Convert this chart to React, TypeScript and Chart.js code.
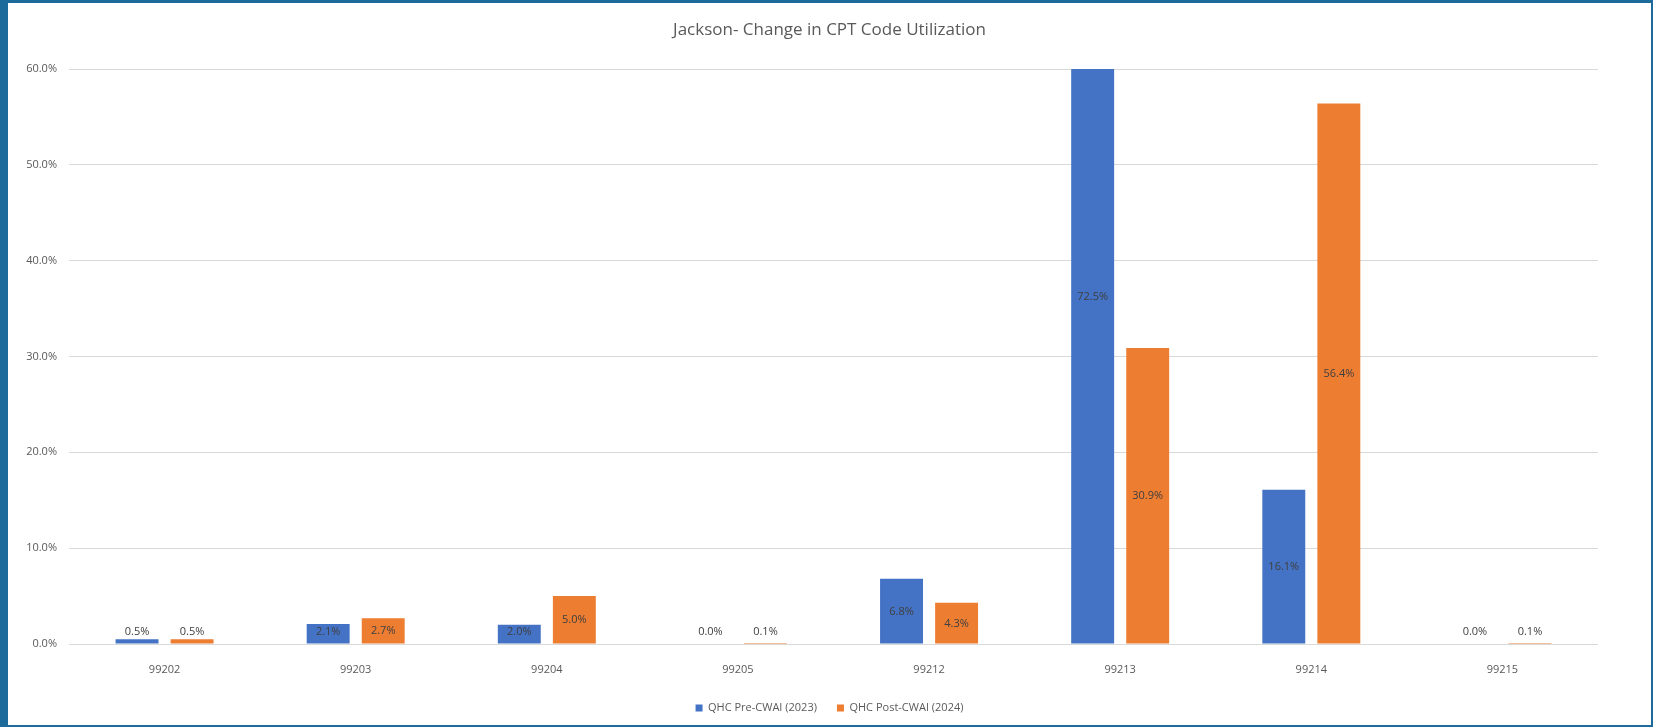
import React, { useEffect, useRef } from "react";
import { Chart, registerables } from "chart.js";

Chart.register(...registerables);

const chartTitle = "Jackson- Change in CPT Code Utilization";
const cptCodes = ["99202", "99203", "99204", "99205", "99212", "99213", "99214", "99215"];
const preLabel = "QHC Pre-CWAI (2023)";
const postLabel = "QHC Post-CWAI (2024)";
const preValues = [0.5, 2.1, 2.0, 0.0, 6.8, 72.5, 16.1, 0.0];
const postValues = [0.5, 2.7, 5.0, 0.1, 4.3, 30.9, 56.4, 0.1];
const yMax = 60;
const yStep = 10;

const FONT = "'Open Sans', 'Noto Sans', sans-serif";
const BLUE = "#4472C4";
const ORANGE = "#ED7D31";

// Writes each bar's value at the middle of the full (unclipped) bar,
// kept inside the plot area when the bar is too short.
const barValueLabels = {
  id: "barValueLabels",
  afterDatasetsDraw(chart: any) {
    const { ctx, scales } = chart;
    const y = scales.y;
    const base = y.getPixelForValue(0);
    ctx.save();
    ctx.font = `11px ${FONT}`;
    ctx.fillStyle = "#404040";
    ctx.textAlign = "center";
    ctx.textBaseline = "middle";
    chart.data.datasets.forEach((ds: any, di: number) => {
      const meta = chart.getDatasetMeta(di);
      meta.data.forEach((bar: any, i: number) => {
        const v = ds.data[i] as number;
        let cy = y.getPixelForValue(v / 2);
        if (cy > base - 12) cy = base - 12;
        ctx.fillText(v.toFixed(1) + "%", bar.x, cy);
      });
    });
    ctx.restore();
  },
};

export default function App() {
  const canvasRef = useRef<HTMLCanvasElement | null>(null);

  useEffect(() => {
    if (!canvasRef.current) return;
    const chart = new Chart(canvasRef.current, {
      type: "bar",
      data: {
        labels: cptCodes,
        datasets: [
          {
            label: preLabel,
            data: preValues,
            backgroundColor: BLUE,
            barPercentage: 0.78,
            categoryPercentage: 0.576,
          },
          {
            label: postLabel,
            data: postValues,
            backgroundColor: ORANGE,
            barPercentage: 0.78,
            categoryPercentage: 0.576,
          },
        ],
      },
      options: {
        animation: false,
        responsive: true,
        maintainAspectRatio: false,
        layout: { padding: { left: 0, right: 0, top: 0, bottom: 1.5 } },
        plugins: {
          title: {
            display: true,
            text: chartTitle,
            color: "#595959",
            font: { family: FONT, size: 17, weight: "normal" },
            padding: { top: 16.5, bottom: 29.1 },
          },
          legend: {
            display: true,
            position: "bottom",
            labels: {
              boxWidth: 7,
              boxHeight: 7,
              padding: 20,
              color: "#595959",
              font: { family: FONT, size: 11 },
            },
          },
          tooltip: { enabled: false },
        },
        scales: {
          x: {
            grid: { display: false },
            border: { display: false },
            ticks: {
              color: "#595959",
              font: { family: FONT, size: 11 },
              padding: 11,
            },
            afterFit: (scale: any) => {
              scale.height = 38.5;
            },
          },
          y: {
            min: 0,
            max: yMax,
            border: { display: false },
            grid: { color: "#d9d9d9", lineWidth: 1, drawTicks: false },
            ticks: {
              stepSize: yStep,
              color: "#595959",
              font: { family: FONT, size: 11 },
              padding: 12,
              callback: (v: any) => Number(v).toFixed(1) + "%",
            },
            afterFit: (scale: any) => {
              scale.width = 61;
            },
          },
          // Empty right-hand margin so the plot stays clear of the right edge
          // while the title and legend stay centred on the whole panel.
          rightMargin: {
            type: "linear",
            position: "right",
            min: 0,
            max: 1,
            grid: { display: false },
            border: { display: false },
            ticks: { display: false },
            afterFit: (scale: any) => {
              scale.width = 53;
            },
          },
        },
      },
      plugins: [barValueLabels],
    });
    return () => chart.destroy();
  }, []);

  return (
    <div
      style={{
        position: "fixed",
        left: 0,
        top: 0,
        width: 1653,
        height: 727,
        boxSizing: "border-box",
        borderStyle: "solid",
        borderColor: "#1d6b9b",
        borderWidth: "3px 2px 2px 8px",
        background: "#ffffff",
      }}
    >
      <div style={{ position: "relative", width: 1643, height: 722 }}>
        <canvas ref={canvasRef} />
      </div>
    </div>
  );
}
